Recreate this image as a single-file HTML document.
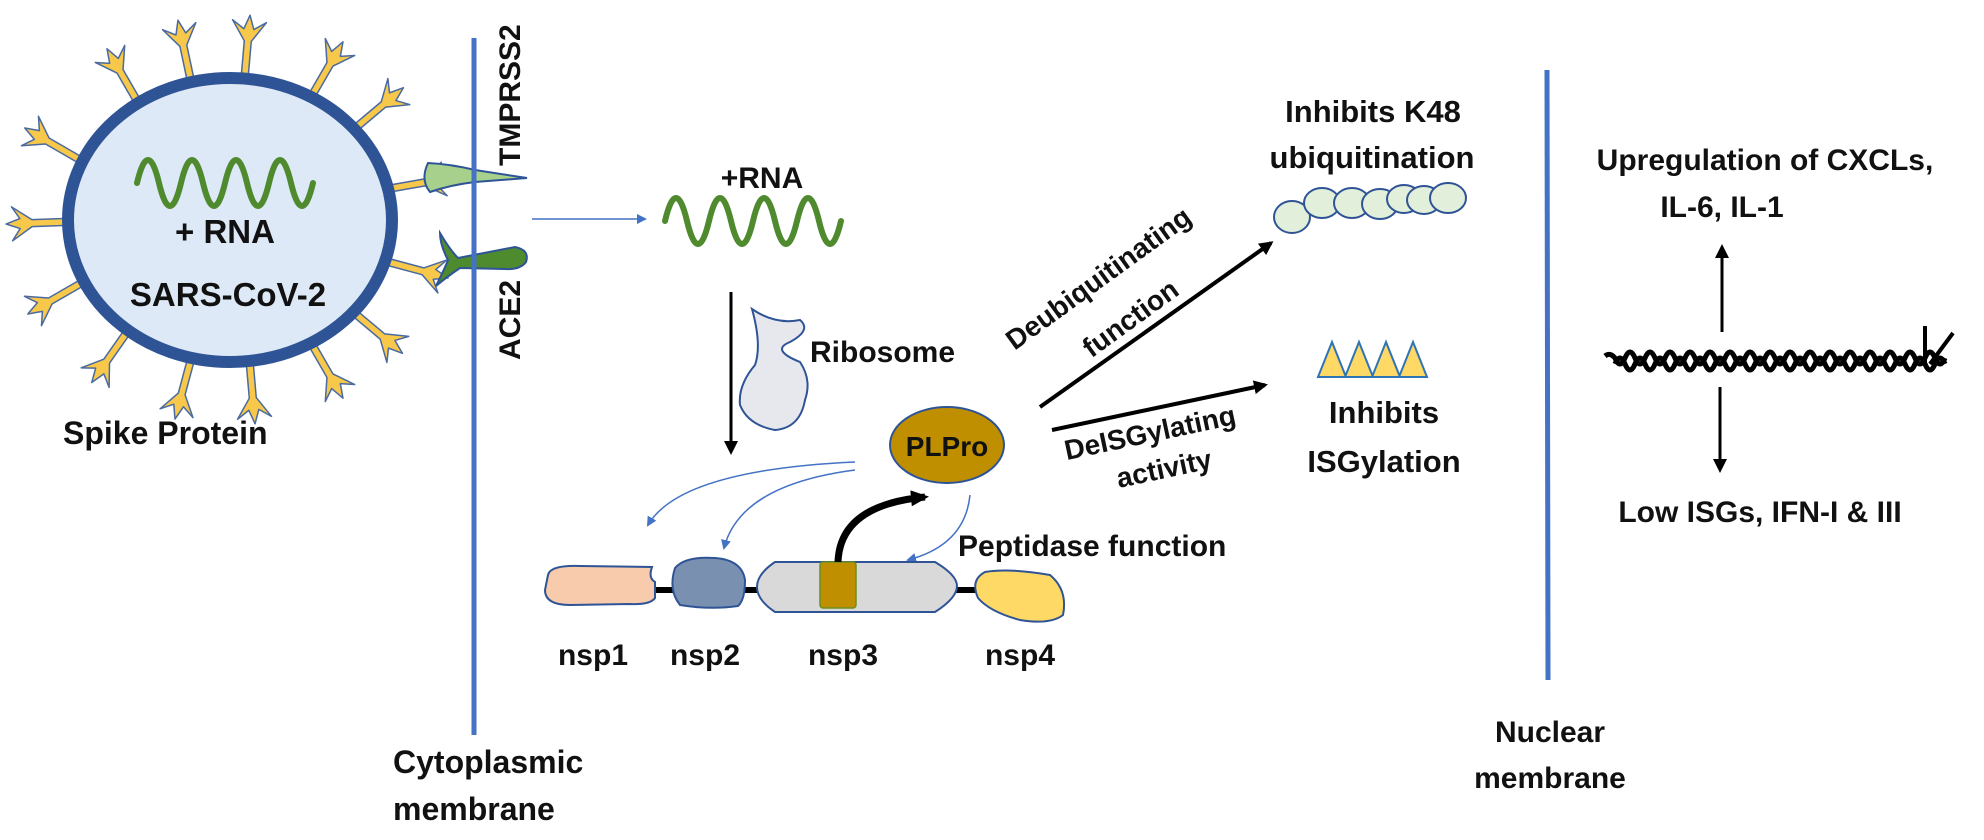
<!DOCTYPE html>
<html><head><meta charset="utf-8"><style>
html,body{margin:0;padding:0;background:#fff}
svg{display:block}
text{font-family:"Liberation Sans",sans-serif;font-weight:bold;fill:#111}
</style></head><body>
<svg width="1984" height="840" viewBox="0 0 1984 840" xmlns="http://www.w3.org/2000/svg">
<defs>
<g id="sp"><path d="M-3.5,14 L-3.5,-32 L-17,-52 L-5,-44 L0,-58 L5,-44 L17,-52 L3.5,-32 L3.5,14 Z" fill="#f7c84a" stroke="#4a6aa0" stroke-width="1.5" stroke-linejoin="round"/></g>
<marker id="ab" markerWidth="10" markerHeight="10" refX="8" refY="5" orient="auto" markerUnits="userSpaceOnUse"><path d="M0,0 L10,5 L0,10 Z" fill="#4472c4"/></marker>
<marker id="ak" markerWidth="18" markerHeight="16" refX="14" refY="8" orient="auto" markerUnits="userSpaceOnUse"><path d="M0,0 L18,8 L0,16 Z" fill="#000"/></marker>
<marker id="ak2" markerWidth="14" markerHeight="14" refX="11" refY="7" orient="auto" markerUnits="userSpaceOnUse"><path d="M0,0 L14,7 L0,14 Z" fill="#000"/></marker>
</defs>

<g>
<use href="#sp" transform="translate(75,157) rotate(-60)"/>
<use href="#sp" transform="translate(136,99) rotate(-30)"/>
<use href="#sp" transform="translate(190,77) rotate(-12)"/>
<use href="#sp" transform="translate(245,73) rotate(5)"/>
<use href="#sp" transform="translate(314,92) rotate(30)"/>
<use href="#sp" transform="translate(359,125) rotate(50)"/>
<use href="#sp" transform="translate(393,188) rotate(80)"/>
<use href="#sp" transform="translate(392,263) rotate(105)"/>
<use href="#sp" transform="translate(358,316) rotate(130)"/>
<use href="#sp" transform="translate(314,348) rotate(150)"/>
<use href="#sp" transform="translate(250,366) rotate(175)"/>
<use href="#sp" transform="translate(190,363) rotate(195)"/>
<use href="#sp" transform="translate(125,335) rotate(215)"/>
<use href="#sp" transform="translate(78,285) rotate(240)"/>
<use href="#sp" transform="translate(64,222) rotate(268)"/>
</g>
<ellipse cx="230" cy="220" rx="162" ry="142" fill="#dde9f6" stroke="#2f5496" stroke-width="12"/>
<path d="M137,183 q11,-46 22,0 t22,0 t22,0 t22,0 t22,0 t22,0 t22,0 t22,0" fill="none" stroke="#4f8a2e" stroke-width="6" stroke-linecap="round"/>
<text x="225" y="243" font-size="33" text-anchor="middle">+ RNA</text>
<text x="228" y="306" font-size="33" text-anchor="middle">SARS-CoV-2</text>
<text x="63" y="444" font-size="32">Spike Protein</text>

<path d="M428,163 Q450,164 475,170 L527,178 L475,182 Q450,185 430,192 Q420,180 428,163 Z" fill="#a8d08d" stroke="#2f5496" stroke-width="2"/>
<path d="M440,233 Q450,250 458,258 L515,247 Q530,250 526,262 Q520,270 505,269 L460,268 Q448,276 436,286 Q445,268 448,260 Q440,245 440,233 Z" fill="#4e8a2e" stroke="#2f5496" stroke-width="2"/>

<line x1="474" y1="38" x2="474" y2="735" stroke="#4472c4" stroke-width="5"/>
<text transform="translate(520,166) rotate(-90)" font-size="30">TMPRSS2</text>
<text transform="translate(520,360) rotate(-90)" font-size="30">ACE2</text>
<text x="393" y="773" font-size="32">Cytoplasmic</text>
<text x="393" y="820" font-size="32">membrane</text>

<line x1="532" y1="219" x2="645" y2="219" stroke="#4472c4" stroke-width="1.5" marker-end="url(#ab)"/>
<text x="762" y="188" font-size="30" text-anchor="middle">+RNA</text>
<path d="M665,221 q11,-46 22,0 t22,0 t22,0 t22,0 t22,0 t22,0 t22,0 t22,0" fill="none" stroke="#4f8a2e" stroke-width="6" stroke-linecap="round"/>

<line x1="731" y1="292" x2="731" y2="452" stroke="#000" stroke-width="3" marker-end="url(#ak2)"/>
<path d="M752,309 Q775,325 800,320 Q812,330 790,342 Q770,350 800,362 Q812,380 805,400 Q800,428 775,430 Q748,425 740,405 Q738,385 755,365 Q762,345 752,309 Z" fill="#e6e8ee" stroke="#2f5496" stroke-width="2"/>
<text x="810" y="362" font-size="30">Ribosome</text>

<ellipse cx="947" cy="445" rx="57" ry="38" fill="#bf8f00" stroke="#2f5496" stroke-width="2"/>
<text x="947" y="456" font-size="28" text-anchor="middle">PLPro</text>

<path d="M855,462 Q680,470 648,525" fill="none" stroke="#4472c4" stroke-width="1.5" marker-end="url(#ab)"/>
<path d="M855,470 Q740,485 724,548" fill="none" stroke="#4472c4" stroke-width="1.5" marker-end="url(#ab)"/>
<path d="M970,495 Q965,545 908,560" fill="none" stroke="#4472c4" stroke-width="1.5" marker-end="url(#ab)"/>

<line x1="600" y1="590" x2="1000" y2="590" stroke="#000" stroke-width="6"/>
<path d="M548,575 Q550,565 580,566 L652,567 Q648,578 655,582 L655,598 Q650,605 630,604 L570,605 Q545,605 545,590 Z" fill="#f8cbad" stroke="#2f5496" stroke-width="2"/>
<path d="M675,568 Q685,556 715,558 Q742,560 745,580 Q745,600 738,606 Q710,610 680,605 Q668,590 675,568 Z" fill="#7a90b0" stroke="#2f5496" stroke-width="2"/>
<path d="M775,562 L935,562 Q957,575 957,586 Q957,598 935,612 L775,612 Q757,600 757,587 Q757,574 775,562 Z" fill="#d9d9d9" stroke="#2f5496" stroke-width="2"/>
<rect x="820" y="562" width="36" height="46" rx="3" fill="#bf8f00" stroke="#6b8e23" stroke-width="1.5"/>
<path d="M985,572 Q1010,568 1050,575 Q1068,590 1063,615 Q1050,625 1020,620 Q990,612 978,598 Q970,580 985,572 Z" fill="#ffd966" stroke="#2f5496" stroke-width="2"/>
<path d="M838,562 Q840,505 925,497" fill="none" stroke="#000" stroke-width="7" marker-end="url(#ak)"/>
<text x="958" y="556" font-size="30">Peptidase function</text>
<text x="593" y="665" font-size="30" text-anchor="middle">nsp1</text>
<text x="705" y="665" font-size="30" text-anchor="middle">nsp2</text>
<text x="843" y="665" font-size="30" text-anchor="middle">nsp3</text>
<text x="1020" y="665" font-size="30" text-anchor="middle">nsp4</text>

<line x1="1040" y1="407" x2="1271" y2="243" stroke="#000" stroke-width="4" marker-end="url(#ak2)"/>
<line x1="1052" y1="430" x2="1265" y2="385" stroke="#000" stroke-width="4" marker-end="url(#ak2)"/>
<text transform="translate(1104,286) rotate(-36)" font-size="28" text-anchor="middle">Deubiquitinating</text>
<text transform="translate(1136,326) rotate(-36)" font-size="28" text-anchor="middle">function</text>
<text transform="translate(1152,442) rotate(-12)" font-size="28" text-anchor="middle">DeISGylating</text>
<text transform="translate(1166,478) rotate(-12)" font-size="28" text-anchor="middle">activity</text>

<text x="1373" y="122" font-size="31" text-anchor="middle">Inhibits K48</text>
<text x="1372" y="168" font-size="31" text-anchor="middle">ubiquitination</text>
<g fill="#e2efda" stroke="#2f5496" stroke-width="2">
<ellipse cx="1292" cy="217" rx="18" ry="16"/>
<ellipse cx="1322" cy="203" rx="18" ry="15"/>
<ellipse cx="1352" cy="203" rx="18" ry="15"/>
<ellipse cx="1380" cy="204" rx="18" ry="15"/>
<ellipse cx="1404" cy="199" rx="17" ry="14"/>
<ellipse cx="1424" cy="200" rx="17" ry="14"/>
<ellipse cx="1448" cy="198" rx="18" ry="15"/>
</g>
<g fill="#ffd966" stroke="#2e75b6" stroke-width="2">
<path d="M1318,377 L1332,342 L1346,377 Z"/>
<path d="M1345,377 L1359,342 L1373,377 Z"/>
<path d="M1372,377 L1386,342 L1400,377 Z"/>
<path d="M1399,377 L1413,342 L1427,377 Z"/>
</g>
<text x="1384" y="423" font-size="31" text-anchor="middle">Inhibits</text>
<text x="1384" y="472" font-size="31" text-anchor="middle">ISGylation</text>

<line x1="1547" y1="70" x2="1548" y2="680" stroke="#4472c4" stroke-width="5"/>
<text x="1550" y="742" font-size="30" text-anchor="middle">Nuclear</text>
<text x="1550" y="788" font-size="30" text-anchor="middle">membrane</text>

<text x="1765" y="170" font-size="30" text-anchor="middle">Upregulation of CXCLs,</text>
<text x="1722" y="217" font-size="30" text-anchor="middle">IL-6, IL-1</text>
<line x1="1722" y1="332" x2="1722" y2="247" stroke="#000" stroke-width="3" marker-end="url(#ak2)"/>
<line x1="1720" y1="387" x2="1720" y2="470" stroke="#000" stroke-width="3" marker-end="url(#ak2)"/>
<text x="1760" y="522" font-size="30" text-anchor="middle">Low ISGs, IFN-I &amp; III</text>

<path d="M1605,356 Q1610,352 1615,358 q5,12 10,0 t10,0 t10,0 t10,0 t10,0 t10,0 t10,0 t10,0 t10,0 t10,0 t10,0 t10,0 t10,0 t10,0 t10,0 t10,0 t10,0 t10,0 t10,0 t10,0 t10,0 t10,0 t10,0 t10,0 t10,0 t10,0 t10,0 t10,0 t10,0 t10,0 t10,0 t10,0 t10,0" fill="none" stroke="#000" stroke-width="5"/>
<path d="M1615,364 q5,-12 10,0 t10,0 t10,0 t10,0 t10,0 t10,0 t10,0 t10,0 t10,0 t10,0 t10,0 t10,0 t10,0 t10,0 t10,0 t10,0 t10,0 t10,0 t10,0 t10,0 t10,0 t10,0 t10,0 t10,0 t10,0 t10,0 t10,0 t10,0 t10,0 t10,0 t10,0 t10,0 t10,0" fill="none" stroke="#000" stroke-width="5"/>
<path d="M1925,366 L1925,326 M1930,364 L1953,333" stroke="#000" stroke-width="4" fill="none"/>
</svg>
</body></html>
